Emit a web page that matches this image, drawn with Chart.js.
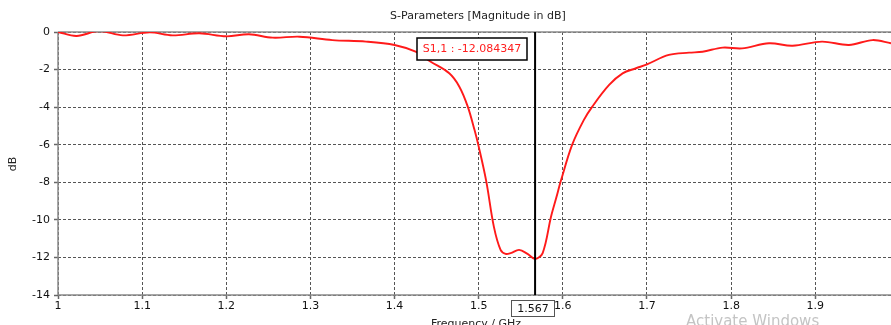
<!DOCTYPE html>
<html>
<head>
<meta charset="utf-8">
<script src="https://cdn.jsdelivr.net/npm/chart.js@4/dist/chart.umd.min.js"></script>
<style>
html,body{margin:0;padding:0;background:#fff;}
canvas{display:block;}
</style>
</head>
<body>
<canvas id="c" width="891" height="325"></canvas>
<script>
// Frequency (GHz)
const freq = [1.000, 1.022, 1.049, 1.077, 1.109, 1.136, 1.168, 1.200, 1.227, 1.255, 1.287, 1.326, 1.366, 1.400, 1.425, 1.443, 1.465, 1.477, 1.487, 1.495, 1.500, 1.509, 1.518, 1.526, 1.532, 1.538, 1.548, 1.558, 1.567, 1.576, 1.586, 1.592, 1.598, 1.611, 1.625, 1.635, 1.655, 1.671, 1.687, 1.700, 1.726, 1.750, 1.766, 1.790, 1.813, 1.845, 1.873, 1.908, 1.940, 1.968, 1.990];
// S1,1 magnitude (dB)
const s11 = [0.00, -0.21, 0.05, -0.18, -0.02, -0.18, -0.07, -0.23, -0.12, -0.30, -0.25, -0.43, -0.51, -0.69, -1.05, -1.58, -2.20, -2.91, -3.97, -5.21, -6.10, -7.95, -10.36, -11.60, -11.81, -11.77, -11.60, -11.81, -12.08, -11.77, -9.82, -8.85, -7.87, -6.01, -4.68, -3.97, -2.82, -2.20, -1.93, -1.72, -1.22, -1.10, -1.05, -0.83, -0.87, -0.60, -0.73, -0.51, -0.69, -0.43, -0.60];
const xTicks = [1, 1.1, 1.2, 1.3, 1.4, 1.5, 1.6, 1.7, 1.8, 1.9];
const yTicks = [0, -2, -4, -6, -8, -10, -12, -14];
const markerFreq = 1.567;
const markerLabel = "S1,1 : -12.084347";
const titleText = "S-Parameters [Magnitude in dB]";
const xTitle = "Frequency / GHz";
const yTitle = "dB";
const watermark = "Activate Windows";

const FONT = "'DejaVu Sans', Verdana, sans-serif";

const overlay = {
  id: 'overlay',
  beforeDraw(chart) {
    const ctx = chart.ctx;
    ctx.save();
    ctx.fillStyle = '#fff';
    ctx.fillRect(0, 0, chart.width, chart.height);
    ctx.restore();
  },
  beforeDatasetsDraw(chart) {
    const {ctx, chartArea: a} = chart;
    ctx.save();
    ctx.strokeStyle = '#8a8a8a';
    ctx.lineWidth = 1.5;
    ctx.setLineDash([]);
    ctx.beginPath();
    ctx.moveTo(a.left, a.top); ctx.lineTo(a.right, a.top);
    ctx.moveTo(a.left, a.top); ctx.lineTo(a.left, a.bottom);
    ctx.moveTo(a.left, a.bottom); ctx.lineTo(a.right, a.bottom);
    ctx.stroke();
    ctx.restore();
  },
  afterDatasetsDraw(chart) {
    const {ctx, chartArea: a, scales} = chart;
    const xs = scales.x;
    const mx = xs.getPixelForValue(markerFreq);
    ctx.save();
    // marker line
    ctx.strokeStyle = '#000';
    ctx.lineWidth = 2;
    ctx.beginPath();
    ctx.moveTo(mx, a.top); ctx.lineTo(mx, a.bottom);
    ctx.stroke();
    // marker value box on x axis
    ctx.font = '11px ' + FONT;
    const lbl = String(markerFreq);
    const w = 43, h = 16;
    const bx = Math.round(mx - 24), by = a.bottom + 5;
    ctx.fillStyle = '#fff';
    ctx.fillRect(bx, by, w, h);
    ctx.strokeStyle = '#555';
    ctx.lineWidth = 1;
    ctx.strokeRect(bx + 0.5, by + 0.5, w, h);
    ctx.fillStyle = '#111';
    ctx.textAlign = 'center';
    ctx.textBaseline = 'middle';
    ctx.fillText(lbl, bx + w / 2 + 0.5, by + h / 2 + 1);
    // annotation box
    ctx.font = '11px ' + FONT;
    const aw = 110, ah = 22;
    const ax = 417, ay = 38;
    ctx.fillStyle = '#fff';
    ctx.fillRect(ax, ay, aw, ah);
    ctx.strokeStyle = '#000';
    ctx.lineWidth = 1.5;
    ctx.strokeRect(ax, ay, aw, ah);
    ctx.fillStyle = '#ff2020';
    ctx.fillText(markerLabel, ax + aw / 2, ay + ah / 2 + 0.5);
    // title
    ctx.fillStyle = '#222';
    ctx.font = '11px ' + FONT;
    ctx.fillText(titleText, 478, 16);
    // x title
    ctx.textBaseline = 'top';
    ctx.fillText(xTitle, 476, 319);
    // y title
    ctx.save();
    ctx.translate(13, 164);
    ctx.rotate(-Math.PI / 2);
    ctx.textBaseline = 'middle';
    ctx.fillText(yTitle, 0, 0);
    ctx.restore();
    // watermark
    ctx.fillStyle = '#c4c4c4';
    ctx.font = '15px ' + FONT;
    ctx.textAlign = 'left';
    ctx.textBaseline = 'top';
    ctx.fillText(watermark, 686, 315);
    ctx.restore();
  }
};

new Chart(document.getElementById('c'), {
  type: 'scatter',
  data: {
    datasets: [{
      label: 'S1,1',
      data: freq.map((f, i) => ({x: f, y: s11[i]})),
      showLine: true,
      borderColor: '#ff1a1a',
      borderWidth: 1.9,
      pointRadius: 0,
      tension: 0.35,
      fill: false
    }]
  },
  options: {
    responsive: false,
    animation: false,
    devicePixelRatio: 1,
    layout: {padding: {top: 32, right: 0, bottom: 0, left: 0}},
    plugins: {legend: {display: false}, tooltip: {enabled: false}, title: {display: false}},
    scales: {
      x: {
        type: 'linear',
        min: 1,
        max: 1.99,
        afterFit(s) { s.height = 30; },
        afterBuildTicks(s) { s.ticks = xTicks.map(v => ({value: v})); },
        ticks: {
          includeBounds: false,
          autoSkip: false,
          maxRotation: 0,
          padding: 1,
          color: '#111',
          font: {family: FONT, size: 11},
          callback: v => String(Math.round(v * 10) / 10)
        },
        grid: {color: '#555', lineWidth: 1, tickLength: 4, tickColor: '#666', tickWidth: 1.5},
        border: {display: false, dash: [3, 2]}
      },
      y: {
        min: -14,
        max: 0,
        afterFit(s) { s.width = 58; },
        afterBuildTicks(s) { s.ticks = yTicks.map(v => ({value: v})); },
        ticks: {
          padding: 4,
          color: '#111',
          font: {family: FONT, size: 11}
        },
        grid: {color: '#555', lineWidth: 1, tickLength: 4, tickColor: '#666', tickWidth: 1.5},
        border: {display: false, dash: [3, 2]}
      }
    }
  },
  plugins: [overlay]
});
</script>
</body>
</html>
